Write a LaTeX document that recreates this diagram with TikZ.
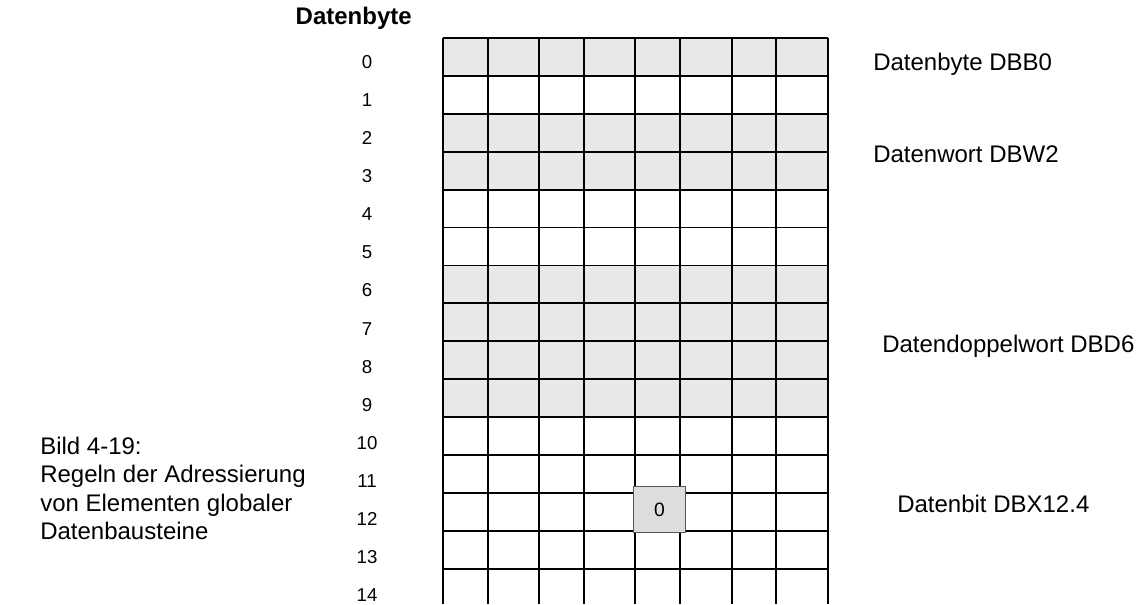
\documentclass[tikz,border=0pt]{standalone}
\usepackage{fontspec}
\setmainfont{Liberation Sans}
\definecolor{shadecol}{HTML}{E8E8E8}
\definecolor{bitfill}{HTML}{DDDDDD}
\definecolor{bitline}{HTML}{555555}
\begin{document}
\begin{tikzpicture}[x=0.75pt,y=-0.75pt,
  gridline/.style={line width=1.35pt,black},
  rowlbl/.style={font=\fontsize{14}{16}\selectfont,inner sep=0pt,anchor=base},
  sidelbl/.style={font=\fontsize{18}{21}\selectfont,inner sep=0pt,anchor=base west},
  caplbl/.style={font=\fontsize{18}{21}\selectfont,inner sep=0pt,anchor=base west},
  bitbox/.style={draw=bitline,fill=bitfill,line width=1.1pt,font=\fontsize{14.5}{16}\selectfont}]
\useasboundingbox (0,0) rectangle (1137,604);
\def\rh{37.9}
% shaded rows
\foreach \r in {0,2,3,6,7,8,9}{
  \fill[shadecol] (443,{38+\r*\rh}) rectangle (828,{38+(\r+1)*\rh});
}
% horizontal lines
\foreach \r in {0,...,14}{
  \draw[gridline] (443,{38+\r*\rh}) -- (828,{38+\r*\rh});
}
% vertical lines
\foreach \c in {443,488,539,584,635,680,732,776,828}{
  \draw[gridline] (\c,38) -- (\c,604);
}
% bit box
\node[bitbox,minimum width=52.4*0.75pt,minimum height=46*0.75pt,inner sep=0pt] (bit) at (659.5,509.7) {0};
% row labels
\foreach \r in {0,...,14}{
  \node[rowlbl] (r\r) at (367,{68.3+\r*38.1}) {\r};
}
% title
\node[font=\fontsize{18}{21}\selectfont\bfseries,inner sep=0pt,anchor=base east] (title) at (412,24) {Datenbyte};
% side labels
\node[sidelbl] (dbb) at (873,70.5) {Datenbyte DBB0};
\node[sidelbl] (dbw) at (873,162) {Datenwort DBW2};
\node[sidelbl] (dbd) at (882,352) {Datendoppelwort DBD6};
\node[sidelbl] (dbx) at (897,512) {Datenbit DBX12.4};
% caption
\node[caplbl] (cap1) at (40,454) {Bild 4-19:};
\node[caplbl] (cap2) at (40,482.5) {Regeln der Adressierung};
\node[caplbl] (cap3) at (40,511) {von Elementen globaler};
\node[caplbl] (cap4) at (40,539.5) {Datenbausteine};
\end{tikzpicture}
\end{document}
